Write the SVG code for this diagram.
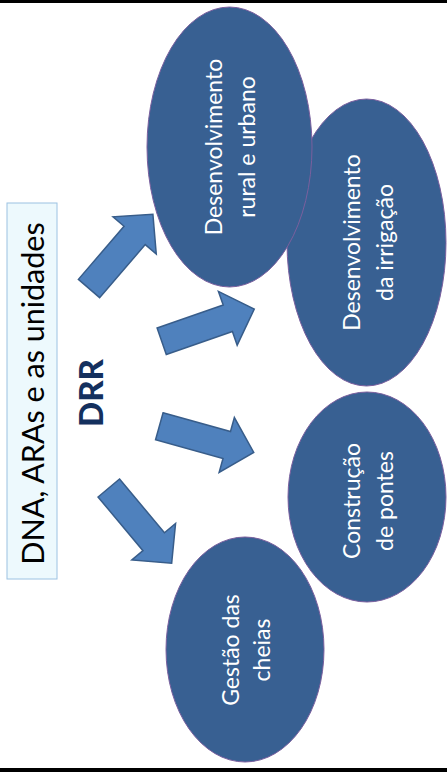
<svg xmlns="http://www.w3.org/2000/svg" width="447" height="772" viewBox="0 0 447 772">
<style>
.ell{fill:#386092;stroke:#7a5f9e;stroke-width:1}
.et{font-family:Lato,"Open Sans",sans-serif;font-size:23px;fill:#ffffff;text-anchor:middle}
.arr{fill:#4f81bd;stroke:#385d8a;stroke-width:1.5;stroke-linejoin:miter}
</style>
<defs>
<path id="blk" d="M0,-14 H70 V-28.5 L98,0 L70,28.5 V14 H0 Z"/>
</defs>
<rect x="0" y="0" width="447" height="3" fill="#000"/>
<rect x="0" y="768" width="447" height="4" fill="#000"/>

<g id="node-dna">
<rect x="7" y="203" width="50" height="376" fill="#edf9fd" stroke="#9cc2e2" stroke-width="1"/>
<text transform="translate(44,393.5) rotate(-90)" font-family="Lato,'Open Sans',sans-serif" font-size="30.5" fill="#000" text-anchor="middle">DNA, ARAs e as unidades</text>
</g>
<g id="node-drr">
<text transform="translate(103,393) rotate(-90)" font-family="Lato,'Open Sans',sans-serif" font-size="33" font-weight="900" fill="#14305e" text-anchor="middle">DRR</text>
</g>

<g id="node-irrigacao">
<ellipse class="ell" cx="366.5" cy="242.5" rx="79.5" ry="143.5"/>
<text class="et" transform="translate(360,242.5) rotate(-90)">Desenvolvimento<tspan x="0" dy="33">da irrigação</tspan></text>
</g>
<g id="node-rural">
<ellipse class="ell" cx="229.5" cy="147" rx="82.5" ry="140"/>
<text class="et" transform="translate(222,147) rotate(-90)">Desenvolvimento<tspan x="0" dy="33">rural e urbano</tspan></text>
</g>
<g id="node-pontes">
<ellipse class="ell" cx="367" cy="497" rx="79" ry="105"/>
<text class="et" transform="translate(360,501) rotate(-90)">Construção<tspan x="0" dy="33">de pontes</tspan></text>
</g>
<g id="node-cheias">
<ellipse class="ell" cx="245" cy="649.5" rx="79" ry="112.5"/>
<text class="et" transform="translate(239,650) rotate(-90)">Gestão das<tspan x="0" dy="31">cheias</tspan></text>
</g>

<g id="connectors">
<use href="#blk" class="arr" transform="translate(89,288.5) rotate(-49.3)"/>
<use href="#blk" class="arr" transform="translate(161.7,341.3) rotate(-19.2)"/>
<use href="#blk" class="arr" transform="translate(159.3,426.3) rotate(15.5)"/>
<use href="#blk" class="arr" transform="translate(108.8,488) rotate(50.1)"/>
</g>
</svg>
